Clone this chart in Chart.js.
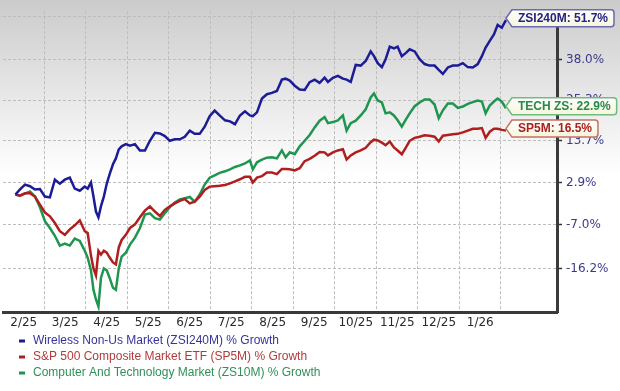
<!DOCTYPE html>
<html>
<head>
<meta charset="utf-8">
<script src="https://cdn.jsdelivr.net/npm/chart.js@4.4.1/dist/chart.umd.min.js"></script>
<style>
  html, body { margin: 0; padding: 0; background: #fff; }
  #wrap { width: 620px; height: 391px; }
</style>
</head>
<body>
<div id="wrap"><canvas id="growthChart" width="620" height="391"></canvas></div>
<script>
// x positions in months since 1 Feb 2025 (0 = Feb 1, 1 = Mar 1, ...)
const monthPos = [
  0.30, 0.41, 0.53, 0.65, 0.77, 0.89, 1.01, 1.13, 1.25, 1.37,
  1.49, 1.61, 1.73, 1.85, 1.97, 2.04, 2.12, 2.18, 2.24, 2.30,
  2.36, 2.43, 2.50, 2.57, 2.65, 2.72, 2.79, 2.86, 2.96, 3.06,
  3.18, 3.30, 3.42, 3.54, 3.66, 3.78, 3.90, 4.02, 4.14, 4.26,
  4.38, 4.50, 4.62, 4.74, 4.86, 4.98, 5.10, 5.22, 5.35, 5.47,
  5.59, 5.71, 5.83, 5.95, 6.02, 6.12, 6.24, 6.36, 6.48, 6.60,
  6.72, 6.81, 6.91, 7.03, 7.15, 7.27, 7.39, 7.51, 7.63, 7.75,
  7.83, 7.95, 8.07, 8.19, 8.28, 8.38, 8.50, 8.62, 8.74, 8.86,
  8.94, 9.03, 9.13, 9.22, 9.32, 9.42, 9.51, 9.61, 9.71, 9.80,
  9.92, 10.04, 10.16, 10.28, 10.40, 10.50, 10.60, 10.72, 10.84, 10.96,
  11.08, 11.20, 11.32, 11.44, 11.54, 11.63, 11.73, 11.83, 11.92, 12.02,
  12.12
];

// % growth
const wirelessGrowth = [
  0, 1.2, 2.4, 2.0, 1.2, 1.3, -0.5, -0.7, 3.6, 2.6,
  3.6, 4.1, 1.4, 0.9, 1.9, 1.4, 2.9, -0.5, -4.0, -5.3,
  -2.8, -0.5, 2.6, 5.0, 7.5, 9.0, 11.4, 12.2, 12.8, 12.4,
  12.8, 11.1, 11.1, 13.7, 15.9, 15.7, 15.0, 13.7, 14.1, 14.1,
  14.8, 16.5, 15.6, 15.6, 17.6, 20.6, 22.2, 20.8, 19.4, 19.1,
  18.3, 20.8, 22.0, 20.8, 20.6, 21.7, 25.8, 27.1, 27.5, 28.1,
  31.6, 31.9, 31.3, 29.7, 28.5, 28.4, 30.8, 31.6, 30.6, 32.2,
  30.9, 32.2, 32.8, 31.9, 31.6, 30.9, 36.3, 36.1, 37.6, 40.8,
  39.2, 36.9, 35.6, 38.2, 42.4, 41.8, 42.4, 39.2, 40.3, 41.5,
  40.8, 38.2, 36.6, 36.1, 36.1, 34.7, 33.4, 35.5, 36.1, 36.1,
  36.9, 35.6, 35.5, 36.6, 39.2, 42.1, 44.4, 46.6, 50.0, 49.0,
  51.7
];
const sp500Growth = [
  0, -0.3, 0.3, 0.3, -0.5, -2.4, -4.2, -5.1, -6.6, -8.4,
  -9.2, -8.0, -7.1, -6.0, -8.4, -8.8, -13.6, -16.2, -17.6, -12.6,
  -13.4, -12.6, -13.0, -14.0, -15.0, -15.4, -11.9, -10.3, -9.2, -7.7,
  -6.9, -5.3, -3.8, -2.8, -4.0, -5.0, -3.6, -2.8, -2.1, -1.5,
  -1.1, -2.1, -1.7, -0.5, 1.1, 1.9, 2.0, 2.1, 2.3, 2.7,
  3.2, 3.7, 4.3, 4.3, 2.9, 4.1, 4.5, 5.4, 5.4, 5.0,
  6.3, 6.3, 6.2, 5.9, 6.5, 8.3, 8.9, 9.7, 10.7, 10.6,
  9.8, 10.6, 11.1, 11.4, 8.7, 9.8, 10.6, 11.1, 11.8, 13.3,
  14.0, 13.8, 13.2, 12.5, 13.5, 11.9, 11.1, 10.1, 11.9, 13.7,
  14.5, 14.8, 15.2, 15.1, 14.8, 13.5, 15.1, 15.3, 15.5, 15.6,
  16.0, 16.5, 17.0, 17.0, 17.2, 14.5, 16.2, 17.0, 17.0, 16.7,
  16.5
];
const techGrowth = [
  0, -0.3, 0.2, 0.7, -0.5, -3.0, -6.2, -7.7, -9.4, -11.5,
  -11.1, -11.5, -10.0, -10.5, -12.6, -14.0, -16.6, -20.4, -22.2, -23.5,
  -18.1, -16.2, -16.6, -18.1, -20.0, -20.4, -16.2, -13.8, -13.0, -11.3,
  -9.8, -7.7, -4.7, -4.4, -5.5, -5.8, -4.4, -3.0, -1.9, -1.2,
  -0.9, -0.6, -1.7, 0.0, 2.4, 4.1, 4.7, 5.3, 5.7, 6.2,
  6.8, 7.2, 7.7, 8.5, 6.2, 8.0, 8.7, 9.2, 9.3, 9.0,
  11.1, 9.3, 10.6, 10.1, 12.2, 13.7, 15.3, 17.4, 19.3, 20.3,
  18.6, 18.9, 19.4, 20.8, 16.5, 18.6, 19.3, 20.8, 22.6, 26.1,
  27.3, 25.2, 24.6, 21.4, 21.7, 20.8, 19.4, 17.6, 19.7, 21.4,
  23.5, 24.6, 25.5, 25.5, 24.0, 20.0, 22.3, 24.3, 24.3, 23.0,
  23.4, 24.2, 24.7, 25.2, 24.9, 21.4, 23.7, 24.9, 25.8, 24.9,
  22.9
];

const monthLabels = ['2/25', '3/25', '4/25', '5/25', '6/25', '7/25', '8/25', '9/25', '10/25', '11/25', '12/25', '1/26'];
const yTickValues = [52.9, 38.0, 25.3, 13.7, 2.9, -7.0, -16.2];

const seriesNames = [
  'Wireless Non-Us Market (ZSI240M) % Growth',
  'S&P 500 Composite Market ETF (SP5M) % Growth',
  'Computer And Technology Market (ZS10M) % Growth'
];
const seriesTags = ['ZSI240M', 'SP5M', 'TECH ZS'];
const lineColors = ['#1c1c96', '#b01e1e', '#1f9550'];
const legendColors = ['#34349a', '#b33a3a', '#2f9058'];
const tagText = ['#23237f', '#a82020', '#27894a'];
const tagBorder = ['#6a6ab0', '#c87060', '#70bb80'];

const bgPlugin = {
  id: 'bg',
  beforeDraw(chart) {
    const { ctx, width, height } = chart;
    ctx.save();
    ctx.fillStyle = '#fff';
    ctx.fillRect(0, 0, width, height);
    const g = ctx.createLinearGradient(0, 0, 0, 175);
    g.addColorStop(0, '#cbcbcb');
    g.addColorStop(1, '#ffffff');
    ctx.fillStyle = g;
    ctx.fillRect(0, 0, width, 175);
    ctx.restore();
  }
};

// end-of-line value tags
const tagPlugin = {
  id: 'tags',
  afterDraw(chart) {
    const ctx = chart.ctx;
    ctx.save();
    ctx.font = 'bold 12px "Liberation Sans", Arial, sans-serif';
    ctx.textBaseline = 'middle';
    chart.data.datasets.forEach((ds, i) => {
      const meta = chart.getDatasetMeta(i);
      const pt = meta.data[meta.data.length - 1];
      const val = ds.data[ds.data.length - 1].y - 100;
      const text = `${seriesTags[i]}: ${val.toFixed(1)}%`;
      const h = 17;
      const cy = Math.max(pt.y - 2, 12);
      const tip = pt.x;
      const left = tip + 6;
      const w = ctx.measureText(text).width + 12;
      const top = cy - h / 2, bot = cy + h / 2, r = 3;
      ctx.beginPath();
      ctx.moveTo(tip, cy);
      ctx.lineTo(left, top);
      ctx.lineTo(left + w - r, top);
      ctx.quadraticCurveTo(left + w, top, left + w, top + r);
      ctx.lineTo(left + w, bot - r);
      ctx.quadraticCurveTo(left + w, bot, left + w - r, bot);
      ctx.lineTo(left, bot);
      ctx.closePath();
      const fill = ctx.createLinearGradient(0, top, 0, bot);
      fill.addColorStop(0, '#ffffff');
      fill.addColorStop(1, '#f5f5dc');
      ctx.fillStyle = fill;
      ctx.fill();
      ctx.lineWidth = 1.5;
      ctx.strokeStyle = tagBorder[i];
      ctx.stroke();
      ctx.fillStyle = tagText[i];
      ctx.fillText(text, left + 6, cy + 0.5);
    });
    ctx.restore();
  }
};

const legendPlugin = {
  id: 'bottomLegend',
  afterDraw(chart) {
    const ctx = chart.ctx;
    ctx.save();
    ctx.font = '12px "Liberation Sans", Arial, sans-serif';
    ctx.textBaseline = 'middle';
    seriesNames.forEach((name, i) => {
      const y = 341 + i * 16;
      ctx.fillStyle = lineColors[i];
      ctx.fillRect(19, y - 1.5, 6, 3);
      ctx.fillStyle = legendColors[i];
      ctx.fillText(name, 33, y);
    });
    ctx.restore();
  }
};

function toPoints(values) {
  return values.map((v, i) => ({ x: monthPos[i], y: 100 + v }));
}

function renderChart() {
  Chart.defaults.font.family = '"DejaVu Sans", Verdana, sans-serif';
  const series = [wirelessGrowth, sp500Growth, techGrowth];
  new Chart(document.getElementById('growthChart'), {
    type: 'line',
    data: {
      datasets: series.map((vals, i) => ({
        label: seriesNames[i],
        data: toPoints(vals),
        borderColor: lineColors[i],
        borderWidth: 2.5,
        pointRadius: 0,
        tension: 0,
        fill: false
      }))
    },
    options: {
      responsive: false,
      animation: false,
      devicePixelRatio: 1,
      layout: { padding: { left: 3, top: 6, right: 0, bottom: 0 } },
      plugins: { legend: { display: false }, tooltip: { enabled: false } },
      scales: {
        x: {
          type: 'linear',
          min: 0,
          max: 13.35,
          afterBuildTicks: scale => {
            const ticks = [];
            for (let i = 0; i < 12; i++) {
              ticks.push({ value: i + 0.5 });
              ticks.push({ value: i + 1 });
            }
            scale.ticks = ticks;
          },
          afterFit: scale => { scale.height = 79; },
          grid: {
            color: c => (c.tick && Number.isInteger(c.tick.value)) ? '#bdbdbd' : 'rgba(0,0,0,0)',
            drawTicks: false
          },
          border: { display: true, color: '#3a3a3a', width: 3, dash: [3, 2] },
          ticks: {
            autoSkip: false,
            maxRotation: 0,
            minRotation: 0,
            padding: 4,
            color: '#2a2a2a',
            font: { size: 12 },
            callback: v => Number.isInteger(v) ? '' : monthLabels[Math.floor(v)]
          }
        },
        y: {
          type: 'logarithmic',
          position: 'right',
          min: 75.5,
          max: 155,
          afterBuildTicks: scale => {
            scale.ticks = yTickValues.map(v => ({ value: 100 + v }));
          },
          afterFit: scale => { scale.width = 63; },
          grid: {
            color: '#bdbdbd',
            drawTicks: true,
            tickLength: 5,
            tickColor: '#333',
            tickWidth: 1.5,
            tickBorderDash: []
          },
          border: { display: true, color: '#3a3a3a', width: 3, dash: [3, 2] },
          ticks: {
            padding: 4,
            color: '#3a3a8a',
            font: { size: 12 },
            callback: v => (v - 100).toFixed(1) + '%'
          }
        }
      }
    },
    plugins: [bgPlugin, tagPlugin, legendPlugin]
  });
}

document.addEventListener('DOMContentLoaded', renderChart);
</script>
</body>
</html>
